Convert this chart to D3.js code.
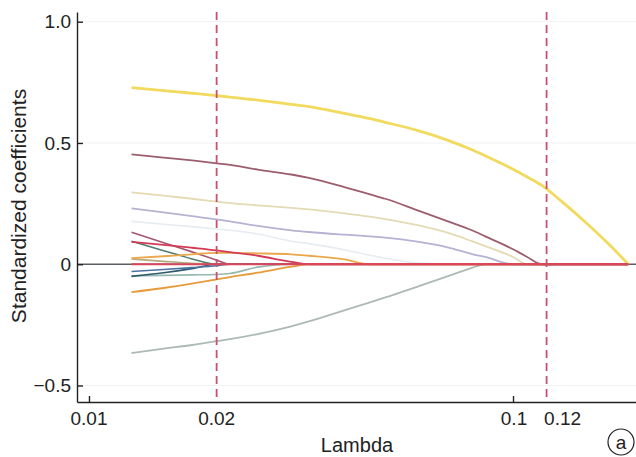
<!DOCTYPE html>
<html>
<head>
<meta charset="utf-8">
<script src="https://cdn.jsdelivr.net/npm/d3@7"></script>
<style>
body { margin: 0; background: #fff; }
text { font-family: "Liberation Sans", Arial, sans-serif; fill: #222; }
</style>
</head>
<body>
<div id="chart"></div>
<script>
// lasso coefficient paths

var width = 636,
	height = 457;

var lambdas = [0.0126, 0.015, 0.0175, 0.02, 0.0215, 0.025, 0.03, 0.033, 0.04, 0.046, 0.05,
	0.06, 0.07, 0.08, 0.086, 0.1, 0.108, 0.117, 0.13, 0.15, 0.17, 0.187];

// one array per variable, same length as lambdas
var coefYellow   = [0.728, 0.716, 0.705, 0.695, 0.689, 0.677, 0.659, 0.65, 0.622, 0.6, 0.585, 0.55, 0.512, 0.472, 0.447, 0.392, 0.36, 0.325, 0.26, 0.165, 0.075, 0];
var coefMauve    = [0.453, 0.44, 0.428, 0.416, 0.41, 0.39, 0.37, 0.356, 0.318, 0.288, 0.27, 0.22, 0.178, 0.14, 0.115, 0.062, 0.03, 0, 0, 0, 0, 0];
var coefBeige    = [0.296, 0.283, 0.27, 0.258, 0.252, 0.243, 0.232, 0.226, 0.21, 0.196, 0.186, 0.16, 0.13, 0.095, 0.075, 0.03, 0, 0, 0, 0, 0, 0];
var coefLavender = [0.23, 0.214, 0.198, 0.185, 0.177, 0.158, 0.14, 0.133, 0.122, 0.115, 0.11, 0.092, 0.07, 0.042, 0.03, 0, 0, 0, 0, 0, 0, 0];
var coefPale     = [0.177, 0.165, 0.155, 0.145, 0.14, 0.125, 0.095, 0.085, 0.06, 0.037, 0.025, 0.005, 0, 0, 0, 0, 0, 0, 0, 0, 0, 0];
var coefOrangeA  = [0.025, 0.033, 0.041, 0.047, 0.047, 0.045, 0.041, 0.035, 0.02, 0, 0, 0, 0, 0, 0, 0, 0, 0, 0, 0, 0, 0];
var coefOrangeB  = [-0.115, -0.098, -0.08, -0.062, -0.053, -0.035, -0.01, 0, 0, 0, 0, 0, 0, 0, 0, 0, 0, 0, 0, 0, 0, 0];
var coefCrimson  = [0.092, 0.08, 0.068, 0.057, 0.05, 0.035, 0.01, 0, 0, 0, 0, 0, 0, 0, 0, 0, 0, 0, 0, 0, 0, 0];
var coefRose     = [0.132, 0.089, 0.051, 0.017, 0, 0, 0, 0, 0, 0, 0, 0, 0, 0, 0, 0, 0, 0, 0, 0, 0, 0];
var coefTeal     = [0.095, 0.056, 0.022, 0, 0, 0, 0, 0, 0, 0, 0, 0, 0, 0, 0, 0, 0, 0, 0, 0, 0, 0];
var coefOlive    = [0.022, 0.012, 0.004, 0, 0, 0, 0, 0, 0, 0, 0, 0, 0, 0, 0, 0, 0, 0, 0, 0, 0, 0];
var coefBlue     = [-0.03, -0.022, -0.014, -0.006, 0, 0, 0, 0, 0, 0, 0, 0, 0, 0, 0, 0, 0, 0, 0, 0, 0, 0];
var coefNavy     = [-0.05, -0.035, -0.018, 0, 0, 0, 0, 0, 0, 0, 0, 0, 0, 0, 0, 0, 0, 0, 0, 0, 0, 0];
var coefSeafoam  = [-0.048, -0.046, -0.044, -0.042, -0.038, -0.012, 0, 0, 0, 0, 0, 0, 0, 0, 0, 0, 0, 0, 0, 0, 0, 0];
var coefGray     = [-0.366, -0.348, -0.333, -0.317, -0.309, -0.288, -0.256, -0.236, -0.19, -0.157, -0.137, -0.09, -0.05, -0.015, 0, 0, 0, 0, 0, 0, 0, 0];
var coefRed      = [0, 0, 0, 0, 0, 0, 0, 0, 0, 0, 0, 0, 0, 0, 0, 0, 0, 0, 0, 0, 0, 0];

// drawing order, last one on top
var seriesList = [
	{name:'pale', values:coefPale, color:'#e6ecef', w:1.6},
	{name:'beige', values:coefBeige, color:'#e4dab4', w:1.8},
	{name:'lavender', values:coefLavender, color:'#b5b2d2', w:1.8},
	{name:'gray', values:coefGray, color:'#adbab4', w:1.8},
	{name:'olive', values:coefOlive, color:'#b3ab7c', w:1.6},
	{name:'seafoam', values:coefSeafoam, color:'#97b8b0', w:1.6},
	{name:'navy', values:coefNavy, color:'#2f5a6c', w:1.6},
	{name:'blue', values:coefBlue, color:'#4b72a0', w:1.6},
	{name:'teal', values:coefTeal, color:'#4f7d70', w:1.6},
	{name:'rose', values:coefRose, color:'#a35870', w:1.6},
	{name:'orangeB', values:coefOrangeB, color:'#e69b3c', w:1.8},
	{name:'orangeA', values:coefOrangeA, color:'#eaa84c', w:1.8},
	{name:'mauve', values:coefMauve, color:'#9c5e6d', w:1.8},
	{name:'yellow', values:coefYellow, color:'#f1da5e', w:2.8},
	{name:'crimson', values:coefCrimson, color:'#d23a56', w:1.8},
	{name:'red', values:coefRed, color:'#d8475d', w:2}
];

var cutLambdas = [0.02, 0.12];
var xTickValues = [0.01, 0.1];
var xLabels = [{v:0.01, t:'0.01', dx:0}, {v:0.02, t:'0.02', dx:0}, {v:0.1, t:'0.1', dx:1}, {v:0.12, t:'0.12', dx:16}];
var yTickValues = [-0.5, 0, 0.5, 1.0];

var svg = d3.select('#chart').append('svg')
	.attr('width', width)
	.attr('height', height);

var x = d3.scaleLog().domain([0.00937, 0.195]).range([77, 636]);
var y = d3.scaleLinear().domain([-0.568, 1.04]).range([402, 12]);

// faint grid
svg.append('g')
	.selectAll('line')
	.data(yTickValues)
	.enter()
	.append('line')
	.attr('x1', 77).attr('x2', 636)
	.attr('y1', d => y(d)).attr('y2', d => y(d))
	.attr('stroke', '#f1f1f1')
	.attr('stroke-width', 1);

// zero reference line
svg.append('line')
	.attr('x1', 77).attr('x2', 636)
	.attr('y1', y(0)).attr('y2', y(0))
	.attr('stroke', '#5a5f63')
	.attr('stroke-width', 1.6);

var line = d3.line()
	.x((d, i) => x(lambdas[i]))
	.y(d => y(d))
	.curve(d3.curveMonotoneX);

svg.append('g')
	.selectAll('path')
	.data(seriesList)
	.enter()
	.append('path')
	.attr('d', d => line(d.values))
	.attr('fill', 'none')
	.attr('stroke', d => d.color)
	.attr('stroke-width', d => d.w)
	.attr('stroke-linejoin', 'round');

// lambda.min and lambda.1se
svg.append('g')
	.selectAll('line')
	.data(cutLambdas)
	.enter()
	.append('line')
	.attr('x1', d => x(d)).attr('x2', d => x(d))
	.attr('y1', 12).attr('y2', 402)
	.attr('stroke', '#c9506f')
	.attr('stroke-width', 1.8)
	.attr('stroke-dasharray', '8,5');

// y axis
var yAxis = d3.axisLeft(y)
	.tickValues(yTickValues)
	.tickSizeInner(-6)
	.tickSizeOuter(0)
	.tickPadding(6)
	.tickFormat(d => d === 0 ? '0' : d3.format('.1f')(d));

svg.append('g')
	.attr('transform', 'translate(77,0)')
	.call(yAxis)
	.call(g => g.selectAll('text').attr('font-size', 19).attr('font-family', null).style('fill', '#222'))
	.call(g => g.selectAll('line, path').attr('stroke', '#222').attr('stroke-width', 1.4));

// x axis, labels placed separately
var xAxis = d3.axisBottom(x)
	.tickValues(xTickValues)
	.tickSizeInner(-6)
	.tickSizeOuter(0)
	.tickFormat('');

svg.append('g')
	.attr('transform', 'translate(0,402)')
	.call(xAxis)
	.call(g => g.selectAll('line, path').attr('stroke', '#222').attr('stroke-width', 1.4));

svg.append('g')
	.selectAll('text')
	.data(xLabels)
	.enter()
	.append('text')
	.attr('x', d => x(d.v) + d.dx)
	.attr('y', 425)
	.attr('text-anchor', 'middle')
	.attr('font-size', 19)
	.text(d => d.t);

svg.append('text')
	.attr('x', 357)
	.attr('y', 452)
	.attr('text-anchor', 'middle')
	.attr('font-size', 20)
	.text('Lambda');

svg.append('text')
	.attr('transform', 'translate(26,206) rotate(-90)')
	.attr('text-anchor', 'middle')
	.attr('font-size', 21)
	.text('Standardized coefficients');

// panel letter
svg.append('circle')
	.attr('cx', 621).attr('cy', 442).attr('r', 13)
	.attr('fill', '#fff')
	.attr('stroke', '#222')
	.attr('stroke-width', 1.2);

svg.append('text')
	.attr('x', 621)
	.attr('y', 449)
	.attr('text-anchor', 'middle')
	.attr('font-size', 19)
	.text('a');
</script>
</body>
</html>
